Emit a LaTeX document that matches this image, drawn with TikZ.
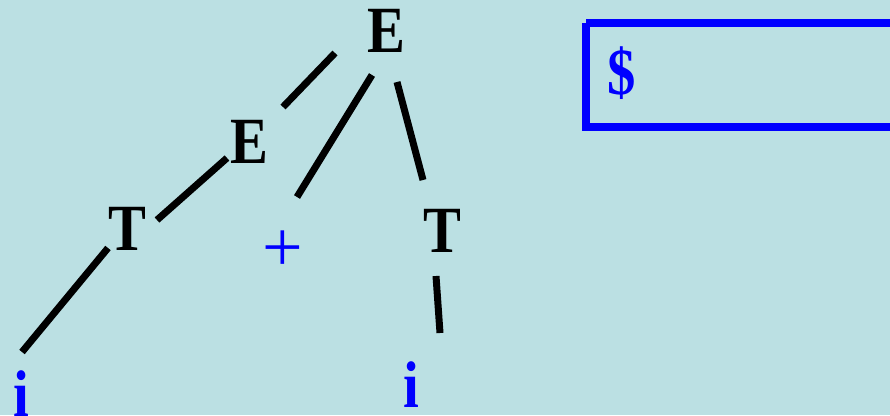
\documentclass[tikz,border=0pt]{standalone}
\usepackage{fontspec}
\setmainfont{Liberation Serif}
\newfontfamily\treefont[FakeStretch=0.86]{Liberation Serif}
\definecolor{bg}{RGB}{187,224,227}
\definecolor{tblue}{RGB}{0,0,255}
\begin{document}
\begin{tikzpicture}[x=1pt,y=-1pt,
  sym/.style={inner sep=0pt, anchor=base, font=\fontsize{66}{66}\selectfont\treefont\bfseries},
  nonterm/.style={sym, text=black},
  term/.style={sym, text=tblue},
  edge/.style={line width=7pt, black, line cap=butt},
  stackbox/.style={draw=tblue, line width=8pt}]
\fill[bg] (0,0) rectangle (890,415);
\clip (0,0) rectangle (890,415);
% nodes
\node[nonterm] (E0) at (386,52) {E};
\node[nonterm] (E1) at (249,163) {E};
\node[nonterm] (T1) at (127,250) {T};
\node[term, font=\fontsize{72}{72}\selectfont\mdseries] (plus) at (283,271) {+};
\node[nonterm] (T2) at (442,252) {T};
\node[term] (i1) at (21,416) {i};
\node[term] (i2) at (411,407) {i};
% stack box
\draw[stackbox] (586,23) -- (900,23) (586,23) -- (586,127) -- (900,127);
\node[term] (dollar) at (622,94) {\$};
% edge end points
\coordinate (a1) at (335,53);  \coordinate (a2) at (283,107);
\coordinate (b1) at (372,75);  \coordinate (b2) at (297,197);
\coordinate (c1) at (397,82);  \coordinate (c2) at (423,180);
\coordinate (d1) at (227,158); \coordinate (d2) at (157,220);
\coordinate (e1) at (108,248); \coordinate (e2) at (22,352);
\coordinate (f1) at (436,276); \coordinate (f2) at (440,333);
\draw[edge] (a1) -- (a2);
\draw[edge] (b1) -- (b2);
\draw[edge] (c1) -- (c2);
\draw[edge] (d1) -- (d2);
\draw[edge] (e1) -- (e2);
\draw[edge] (f1) -- (f2);
\end{tikzpicture}
\end{document}
